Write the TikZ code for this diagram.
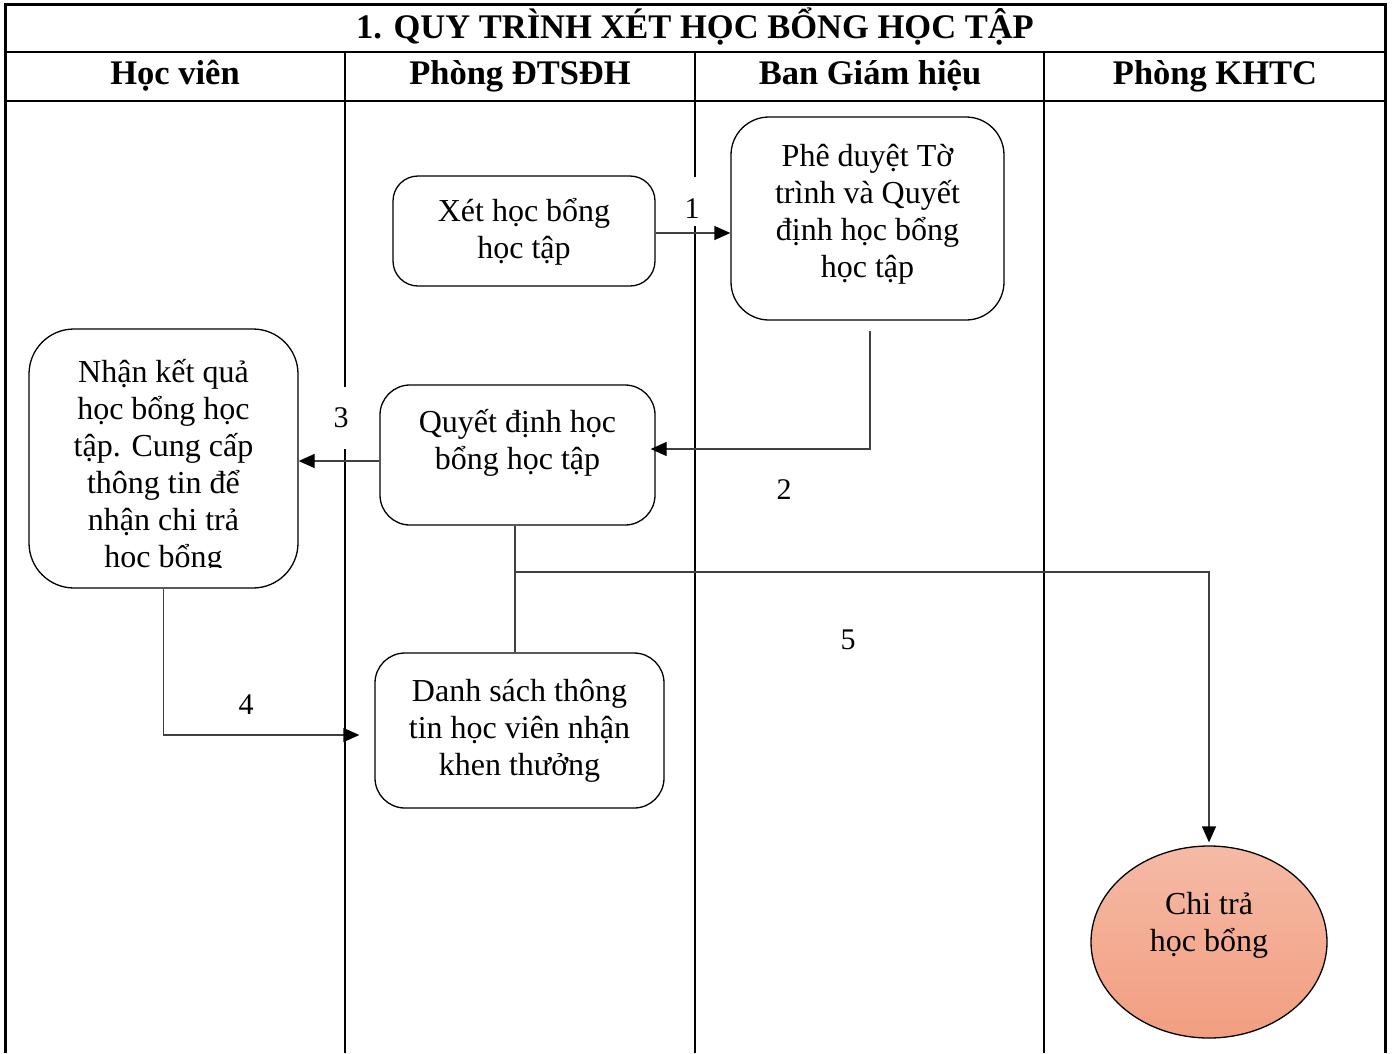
\documentclass[tikz,border=0pt]{standalone}
\usepackage{fontspec}
\setmainfont{Liberation Serif}
\usetikzlibrary{arrows.meta,shapes.geometric}
\definecolor{connc}{RGB}{64,64,64}
\definecolor{ellt}{RGB}{245,186,166}
\definecolor{ellb}{RGB}{242,158,128}
\tikzset{
 tbl/.style={line width=2.2pt,draw=black},
 tblo/.style={line width=3pt,draw=black},
 box/.style={draw=black,line width=1.3pt,inner sep=0pt},
 txt/.style={font=\fontsize{32}{37}\selectfont,align=center,inner sep=0pt},
 hdr/.style={font=\fontsize{34.5}{40}\selectfont\bfseries,inner sep=0pt},
 conn/.style={line width=1.3pt,draw=connc},
 arr/.style={conn,-{Triangle[length=16pt,width=14pt,color=black,fill=black]}},
 num/.style={font=\fontsize{30}{34}\selectfont,inner sep=3pt},
}
\begin{document}
\begin{tikzpicture}[x=1pt,y=-1pt]
\useasboundingbox (0,0) rectangle (1395,1053);
% table
\draw[tblo] (5,1053) -- (5,4) -- (1385,4) -- (1385,1053);
\draw[tbl] (5,52) -- (1385,52);
\draw[tbl] (5,101) -- (1385,101);
\draw[tbl] (345,52) -- (345,1053);
\draw[tbl] (695,52) -- (695,1053);
\draw[tbl] (1044,52) -- (1044,1053);
\node[hdr] (title) at (695,27) {1. QUY TRÌNH XÉT HỌC BỔNG HỌC TẬP};
\node[hdr] (h1) at (175,76) {Học viên};
\node[hdr] (h2) at (520,76) {Phòng ĐTSĐH};
\node[hdr] (h3) at (870,76) {Ban Giám hiệu};
\node[hdr] (h4) at (1215,76) {Phòng KHTC};
% boxes
\node[box,rounded corners=25pt,minimum width=262pt,minimum height=110pt] (xet) at (524,231) {};
\node[txt] (xett) at (524,232) {Xét học bổng\\học tập};
\node[box,rounded corners=38pt,minimum width=273pt,minimum height=203pt] (phe) at (867.5,218.5) {};
\node[txt] (phet) at (867.5,214) {Phê duyệt Tờ\\trình và Quyết\\định học bổng\\học tập};
\node[box,rounded corners=45pt,minimum width=269pt,minimum height=259pt] (nhan) at (163.5,458.5) {};
\begin{scope}
\clip (29,329) rectangle (298,567);
\node[txt] (nhant) at (163.5,467) {Nhận kết quả\\học bổng học\\tập. Cung cấp\\thông tin để\\nhận chi trả\\học bổng};
\end{scope}
\node[box,rounded corners=30pt,minimum width=275pt,minimum height=140pt] (quy) at (517.5,455) {};
\node[txt] (quyt) at (517.5,443) {Quyết định học\\bổng học tập};
\node[box,rounded corners=30pt,minimum width=289pt,minimum height=155pt] (danh) at (519.5,730.5) {};
\node[txt] (danht) at (519.5,731) {Danh sách thông\\tin học viên nhận\\khen thưởng};
\node[ellipse,draw=black,line width=1.3pt,minimum width=236pt,minimum height=192pt,inner sep=0pt,top color=ellt,bottom color=ellb] (chi) at (1209,942) {};
\node[txt] (chit) at (1209,925) {Chi trả\\học bổng};
% connectors
\draw[arr] ([yshift=-2pt]xet.east) -- ([yshift=-2pt]xet.east -| phe.west);
\draw[arr] ([yshift=-10pt,xshift=2.5pt]phe.south) |- ([xshift=-5pt,yshift=6pt]quy.east);
\draw[arr] ([yshift=-6pt]quy.west) -- ([yshift=-6pt]quy.west -| nhan.east);
\draw[arr] (nhan.south) |- ([xshift=-15pt,yshift=-4.5pt]danh.west);
\draw[conn] ([xshift=-2.5pt]quy.south) -- ([xshift=-2.5pt]quy.south |- danh.north);
\coordinate (j) at (515,572);
\draw[arr] (j) -| ([yshift=3pt]chi.north);
% labels
\node[num,fill=white,minimum height=49pt,minimum width=16pt,inner sep=0pt,text height=33pt,text depth=0pt] (n1) at (692,201.5) {1};
\node[num] (n2) at (784,490) {2};
\node[num,fill=white,minimum height=62pt,minimum width=18pt,inner sep=0pt] (n3) at (341,417.5) {3};
\node[num] (n4) at (246,705) {4};
\node[num] (n5) at (848,640) {5};
\end{tikzpicture}
\end{document}
